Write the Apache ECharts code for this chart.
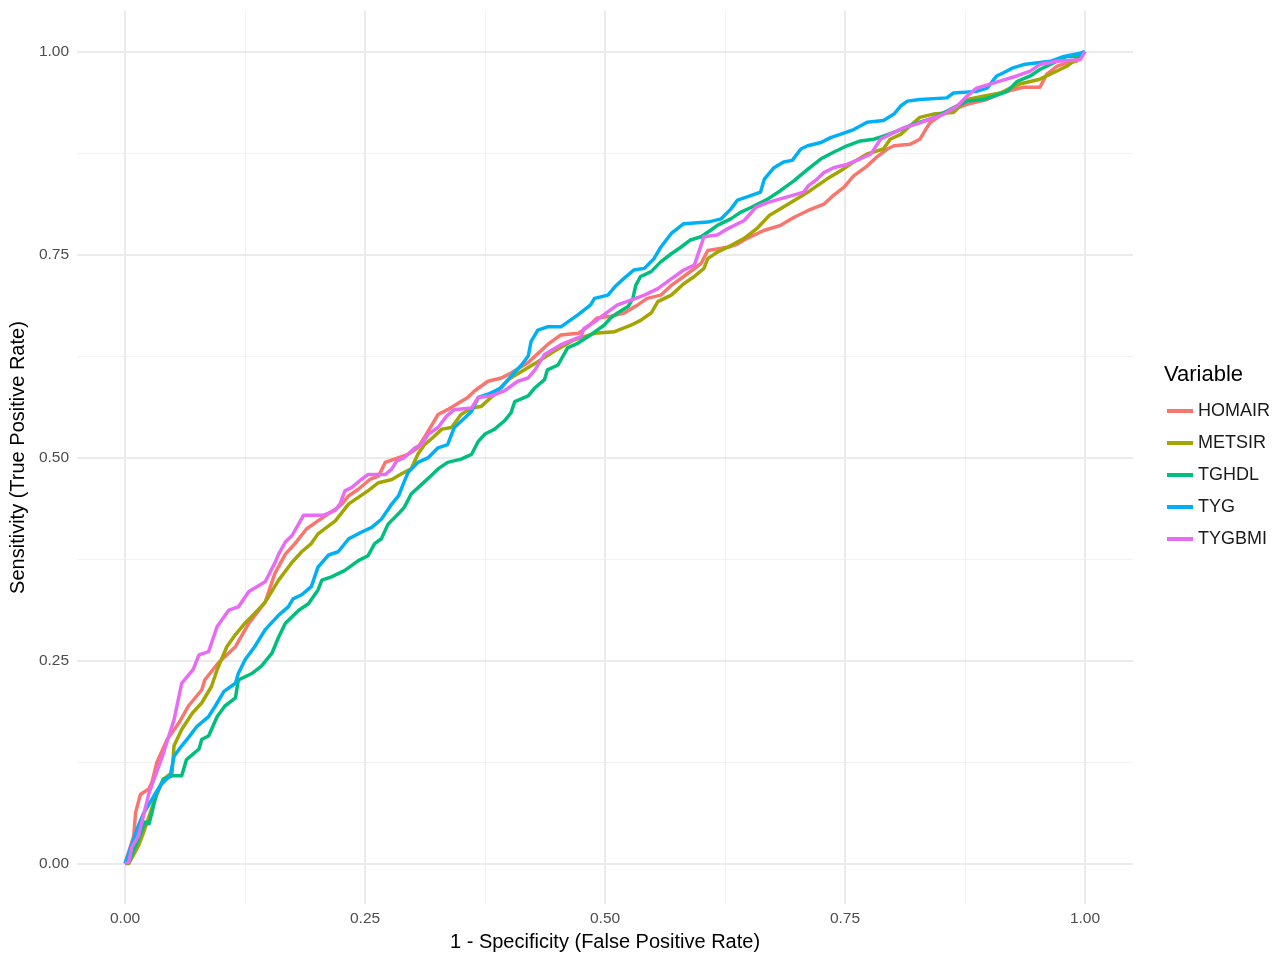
<!DOCTYPE html>
<html>
<head>
<meta charset="utf-8">
<script src="https://cdn.jsdelivr.net/npm/echarts@6/dist/echarts.min.js"></script>
<style>
html,body{margin:0;padding:0;background:#fff;}
#chart{width:1286px;height:957px;}
</style>
</head>
<body>
<div id="chart"></div>
<script>
// ROC curves: [1 - specificity, sensitivity]
const seriesNames = ['HOMAIR', 'METSIR', 'TGHDL', 'TYG', 'TYGBMI'];
const seriesColors = ['#F8766D', '#A3A500', '#00BF7D', '#00B0F6', '#E76BF3'];
const xTicks = [0, 0.25, 0.5, 0.75, 1];
const yTicks = [0, 0.25, 0.5, 0.75, 1];
const xMinor = [0.125, 0.375, 0.625, 0.875];
const yMinor = [0.125, 0.375, 0.625, 0.875];

const homair = [[0,0],[0.002,0.002],[0.009,0.034],[0.011,0.063],[0.016,0.085],[0.025,0.092],[0.028,0.100],[0.033,0.124],[0.044,0.153],[0.056,0.173],[0.066,0.194],[0.080,0.214],[0.083,0.226],[0.097,0.247],[0.115,0.267],[0.129,0.296],[0.146,0.322],[0.156,0.357],[0.167,0.381],[0.177,0.394],[0.189,0.412],[0.201,0.422],[0.212,0.431],[0.220,0.437],[0.226,0.443],[0.233,0.453],[0.243,0.461],[0.255,0.473],[0.264,0.477],[0.271,0.494],[0.285,0.500],[0.295,0.504],[0.305,0.512],[0.312,0.525],[0.317,0.535],[0.326,0.553],[0.336,0.559],[0.350,0.569],[0.357,0.574],[0.364,0.582],[0.378,0.594],[0.392,0.598],[0.402,0.604],[0.420,0.617],[0.430,0.628],[0.440,0.639],[0.454,0.651],[0.472,0.653],[0.482,0.661],[0.492,0.672],[0.506,0.674],[0.520,0.678],[0.534,0.688],[0.544,0.696],[0.558,0.700],[0.569,0.712],[0.582,0.723],[0.600,0.739],[0.607,0.755],[0.628,0.759],[0.638,0.763],[0.648,0.770],[0.666,0.780],[0.683,0.786],[0.697,0.796],[0.711,0.804],[0.728,0.812],[0.738,0.823],[0.749,0.833],[0.759,0.847],[0.773,0.859],[0.783,0.870],[0.794,0.880],[0.801,0.884],[0.818,0.886],[0.828,0.892],[0.835,0.906],[0.839,0.913],[0.849,0.921],[0.863,0.929],[0.877,0.935],[0.898,0.941],[0.912,0.949],[0.925,0.953],[0.936,0.956],[0.953,0.956],[0.960,0.972],[0.971,0.982],[0.981,0.986],[0.991,0.988],[1,1]];

const metsir = [[0,0],[0.004,0],[0.014,0.022],[0.018,0.034],[0.023,0.051],[0.031,0.079],[0.040,0.104],[0.049,0.112],[0.051,0.145],[0.059,0.165],[0.070,0.185],[0.080,0.198],[0.090,0.218],[0.096,0.239],[0.106,0.267],[0.115,0.282],[0.125,0.296],[0.135,0.308],[0.146,0.322],[0.160,0.349],[0.174,0.371],[0.184,0.384],[0.194,0.394],[0.201,0.406],[0.219,0.422],[0.233,0.443],[0.243,0.451],[0.253,0.459],[0.264,0.469],[0.278,0.473],[0.288,0.480],[0.298,0.486],[0.305,0.504],[0.312,0.516],[0.321,0.525],[0.330,0.535],[0.340,0.537],[0.350,0.553],[0.361,0.561],[0.371,0.563],[0.385,0.578],[0.399,0.596],[0.413,0.606],[0.430,0.618],[0.447,0.631],[0.468,0.645],[0.489,0.653],[0.510,0.655],[0.527,0.663],[0.537,0.669],[0.548,0.678],[0.555,0.692],[0.569,0.700],[0.582,0.714],[0.593,0.723],[0.603,0.733],[0.607,0.745],[0.617,0.753],[0.631,0.761],[0.645,0.770],[0.659,0.783],[0.671,0.798],[0.688,0.810],[0.703,0.821],[0.714,0.829],[0.731,0.843],[0.745,0.853],[0.759,0.864],[0.773,0.874],[0.790,0.880],[0.797,0.892],[0.808,0.898],[0.822,0.913],[0.828,0.919],[0.842,0.923],[0.863,0.925],[0.870,0.933],[0.877,0.941],[0.894,0.945],[0.912,0.949],[0.922,0.955],[0.932,0.960],[0.953,0.966],[0.967,0.974],[0.981,0.982],[0.988,0.988],[1,1]];

const tghdl = [[0,0],[0.004,0.002],[0.014,0.030],[0.021,0.051],[0.025,0.049],[0.028,0.063],[0.033,0.087],[0.040,0.104],[0.049,0.108],[0.059,0.108],[0.064,0.128],[0.077,0.141],[0.080,0.153],[0.087,0.157],[0.096,0.181],[0.104,0.194],[0.115,0.204],[0.118,0.226],[0.132,0.234],[0.142,0.243],[0.153,0.259],[0.160,0.279],[0.167,0.296],[0.181,0.312],[0.191,0.320],[0.201,0.337],[0.205,0.349],[0.215,0.353],[0.229,0.361],[0.243,0.373],[0.253,0.379],[0.260,0.394],[0.267,0.400],[0.274,0.418],[0.285,0.431],[0.291,0.439],[0.298,0.455],[0.309,0.467],[0.319,0.478],[0.326,0.486],[0.336,0.494],[0.350,0.498],[0.361,0.504],[0.368,0.520],[0.375,0.529],[0.385,0.535],[0.395,0.545],[0.402,0.555],[0.406,0.569],[0.420,0.576],[0.427,0.586],[0.437,0.596],[0.440,0.608],[0.451,0.614],[0.461,0.635],[0.472,0.641],[0.485,0.651],[0.499,0.663],[0.506,0.672],[0.513,0.678],[0.524,0.686],[0.529,0.696],[0.532,0.712],[0.537,0.723],[0.548,0.729],[0.558,0.741],[0.569,0.751],[0.579,0.759],[0.589,0.768],[0.600,0.772],[0.610,0.780],[0.617,0.786],[0.631,0.794],[0.641,0.802],[0.652,0.808],[0.669,0.818],[0.683,0.829],[0.697,0.841],[0.711,0.855],[0.725,0.868],[0.738,0.876],[0.752,0.884],[0.766,0.890],[0.780,0.892],[0.790,0.896],[0.804,0.902],[0.822,0.911],[0.839,0.917],[0.853,0.925],[0.870,0.935],[0.877,0.939],[0.894,0.941],[0.905,0.945],[0.919,0.951],[0.929,0.963],[0.943,0.970],[0.953,0.978],[0.967,0.986],[0.981,0.994],[0.995,0.994],[1,1]];

const tyg = [[0,0],[0.002,0.002],[0.009,0.030],[0.014,0.047],[0.019,0.061],[0.028,0.079],[0.033,0.089],[0.038,0.098],[0.047,0.108],[0.051,0.132],[0.059,0.145],[0.066,0.155],[0.075,0.169],[0.087,0.181],[0.094,0.194],[0.103,0.212],[0.115,0.222],[0.118,0.234],[0.125,0.251],[0.135,0.267],[0.146,0.288],[0.160,0.306],[0.170,0.316],[0.175,0.326],[0.184,0.331],[0.194,0.341],[0.201,0.365],[0.212,0.380],[0.222,0.384],[0.233,0.400],[0.246,0.408],[0.257,0.414],[0.267,0.424],[0.278,0.443],[0.285,0.453],[0.291,0.471],[0.295,0.482],[0.305,0.494],[0.316,0.500],[0.326,0.512],[0.336,0.516],[0.343,0.537],[0.354,0.549],[0.361,0.557],[0.368,0.574],[0.378,0.578],[0.392,0.586],[0.402,0.600],[0.413,0.614],[0.420,0.625],[0.423,0.643],[0.430,0.657],[0.440,0.661],[0.454,0.661],[0.472,0.676],[0.485,0.688],[0.489,0.696],[0.503,0.700],[0.510,0.710],[0.520,0.721],[0.530,0.731],[0.541,0.733],[0.551,0.745],[0.558,0.759],[0.569,0.776],[0.582,0.788],[0.607,0.790],[0.621,0.794],[0.631,0.806],[0.638,0.817],[0.648,0.821],[0.662,0.827],[0.666,0.843],[0.676,0.857],[0.686,0.864],[0.695,0.866],[0.704,0.880],[0.711,0.884],[0.725,0.888],[0.735,0.894],[0.745,0.898],[0.759,0.904],[0.773,0.913],[0.790,0.915],[0.801,0.923],[0.808,0.933],[0.815,0.939],[0.828,0.941],[0.856,0.943],[0.863,0.949],[0.887,0.951],[0.898,0.955],[0.908,0.970],[0.915,0.974],[0.925,0.980],[0.936,0.984],[0.964,0.988],[0.978,0.994],[0.995,0.998],[1,1]];

const tygbmi = [[0,0],[0.004,0.002],[0.007,0.020],[0.014,0.034],[0.025,0.087],[0.040,0.136],[0.051,0.177],[0.059,0.222],[0.071,0.239],[0.077,0.257],[0.087,0.261],[0.096,0.292],[0.108,0.312],[0.118,0.316],[0.129,0.335],[0.146,0.347],[0.156,0.370],[0.160,0.381],[0.167,0.396],[0.174,0.404],[0.186,0.429],[0.207,0.429],[0.219,0.435],[0.224,0.443],[0.229,0.459],[0.236,0.463],[0.246,0.473],[0.253,0.479],[0.271,0.479],[0.278,0.486],[0.283,0.496],[0.291,0.500],[0.302,0.512],[0.309,0.516],[0.316,0.529],[0.326,0.537],[0.335,0.551],[0.343,0.559],[0.361,0.561],[0.368,0.574],[0.382,0.576],[0.395,0.582],[0.409,0.594],[0.420,0.598],[0.427,0.608],[0.437,0.627],[0.454,0.639],[0.475,0.649],[0.478,0.659],[0.489,0.667],[0.499,0.676],[0.513,0.688],[0.527,0.694],[0.541,0.700],[0.555,0.708],[0.569,0.720],[0.582,0.731],[0.593,0.737],[0.600,0.761],[0.603,0.772],[0.617,0.774],[0.628,0.782],[0.645,0.792],[0.657,0.808],[0.669,0.814],[0.690,0.821],[0.707,0.827],[0.712,0.835],[0.721,0.843],[0.728,0.851],[0.738,0.857],[0.752,0.861],[0.766,0.868],[0.777,0.874],[0.787,0.892],[0.797,0.898],[0.811,0.906],[0.825,0.911],[0.839,0.917],[0.853,0.923],[0.867,0.933],[0.877,0.945],[0.887,0.955],[0.901,0.960],[0.912,0.964],[0.929,0.970],[0.943,0.976],[0.953,0.984],[0.971,0.988],[0.995,0.990],[1,1]];

const seriesData = [homair, metsir, tghdl, tyg, tygbmi];

const FONT = '"Liberation Sans", Arial, Helvetica, sans-serif';
const chart = echarts.init(document.getElementById('chart'), null, {renderer: 'canvas'});

const majorLine = {show: true, lineStyle: {color: '#EBEBEB', width: 2}};
const minorLine = {show: true, lineStyle: {color: '#F2F2F2', width: 1}};

chart.setOption({
  backgroundColor: '#FFFFFF',
  animation: false,
  grid: {left: 75, right: 153, top: 11, bottom: 48, containLabel: false},
  xAxis: [
    {
      type: 'value', min: -0.05, max: 1.05, gridIndex: 0,
      axisLine: {show: false},
      axisTick: {show: false, customValues: xTicks},
      axisLabel: {customValues: xTicks, formatter: v => v.toFixed(2), color: '#4D4D4D', fontSize: 15.5, fontFamily: FONT, margin: 7},
      splitLine: majorLine,
      name: '1 - Specificity (False Positive Rate)',
      nameLocation: 'middle', nameGap: 27,
      nameTextStyle: {color: '#000000', fontSize: 20, fontFamily: FONT}
    },
    {
      type: 'value', min: -0.05, max: 1.05, gridIndex: 0, position: 'bottom',
      axisLine: {show: false},
      axisTick: {show: false, customValues: xMinor},
      axisLabel: {show: false, customValues: xMinor},
      splitLine: minorLine,
      z: -1
    }
  ],
  yAxis: [
    {
      type: 'value', min: -0.05, max: 1.05, gridIndex: 0,
      axisLine: {show: false},
      axisTick: {show: false, customValues: yTicks},
      axisLabel: {customValues: yTicks, formatter: v => v.toFixed(2), color: '#4D4D4D', fontSize: 15.5, fontFamily: FONT, margin: 8},
      splitLine: majorLine,
      name: 'Sensitivity (True Positive Rate)',
      nameLocation: 'middle', nameGap: 43,
      nameTextStyle: {color: '#000000', fontSize: 20, fontFamily: FONT}
    },
    {
      type: 'value', min: -0.05, max: 1.05, gridIndex: 0, position: 'left',
      axisLine: {show: false},
      axisTick: {show: false, customValues: yMinor},
      axisLabel: {show: false, customValues: yMinor},
      splitLine: minorLine,
      z: -1
    }
  ],
  title: {
    text: 'Variable', left: 1164, top: 364, padding: 0,
    textStyle: {color: '#000000', fontSize: 22, fontWeight: 'normal', fontFamily: FONT}
  },
  legend: {
    orient: 'vertical', left: 1167, top: 401, padding: 0,
    itemWidth: 26, itemHeight: 4, itemGap: 12, itemTextGap: 14,
    icon: 'rect',
    textStyle: {color: '#1A1A1A', fontSize: 18, lineHeight: 20, fontFamily: FONT},
    data: seriesNames
  },
  series: seriesNames.map((name, i) => ({
    name: name,
    type: 'line',
    xAxisIndex: 0, yAxisIndex: 0,
    data: seriesData[i],
    showSymbol: false,
    symbol: 'none',
    color: seriesColors[i],
    lineStyle: {color: seriesColors[i], width: 3.5, join: 'round'},
    z: 2 + i
  }))
});
</script>
</body>
</html>
